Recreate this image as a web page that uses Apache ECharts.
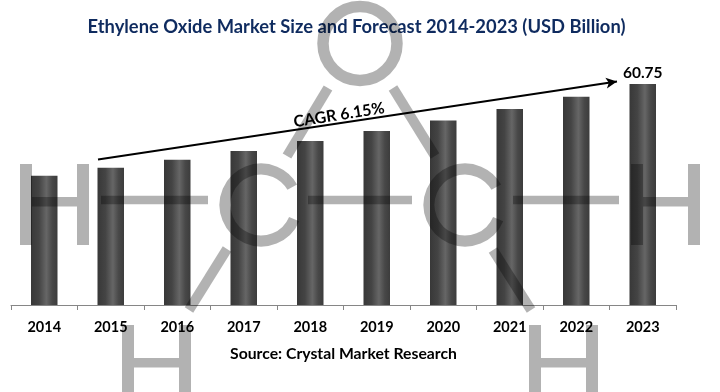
<!DOCTYPE html>
<html><head><meta charset="utf-8">
<style>html,body{margin:0;padding:0;background:#fff}#c{width:720px;height:392px}</style>
<script src="https://cdn.jsdelivr.net/npm/echarts@6/dist/echarts.min.js"></script>
</head><body><div id="c"></div>
<script>
const years = ['2014','2015','2016','2017','2018','2019','2020','2021','2022','2023'];
const marketSize = [35.5,37.7,39.9,42.3,45.1,47.8,50.7,53.9,57.2,60.75];
const titleText = 'Ethylene Oxide Market Size and Forecast 2014-2023 (USD Billion)';
const sourceText = 'Source: Crystal Market Research';
const cagrText = 'CAGR 6.15%';
const FONT = 'Lato';
const WM = 'rgba(0,0,0,0.30)';

function hShape(x,y,w,h){ // letter H as one outline
  const s=12, t=y+33, b=t+9.5;
  return {type:'polygon',silent:true,z:100,style:{fill:WM},shape:{points:[
    [x,y],[x+s,y],[x+s,t],[x+w-s,t],[x+w-s,y],[x+w,y],[x+w,y+h],[x+w-s,y+h],[x+w-s,b],[x+s,b],[x+s,y+h],[x,y+h]]}};
}
function bond(x1,y1,x2,y2,w){
  return {type:'line',silent:true,z:100,style:{stroke:WM,lineWidth:w,lineCap:'butt'},shape:{x1,y1,x2,y2}};
}
function letterC(cx,cy){
  return {type:'arc',silent:true,z:100,style:{stroke:WM,lineWidth:11,fill:null,lineCap:'butt'},
    shape:{cx,cy,r:36,startAngle:0.40,endAngle:-0.52+Math.PI*2,clockwise:true}};
}
const watermark = [
  hShape(20,164,69,81), hShape(631,164,69,81),
  hShape(122,325,69,81), hShape(529,325,69,81),
  {type:'circle',silent:true,z:100,style:{stroke:WM,lineWidth:11.5,fill:null},shape:{cx:360,cy:43.5,r:37}},
  letterC(261,205), letterC(465,205),
  bond(101,200,208,200,8.5), bond(308,200,412,200,8.5), bond(513,200,619,200,8.5),
  bond(328,88,287,156,10), bond(393,88,435,156,10),
  bond(227,249,189,310,10), bond(493,250,531,310,10)
];

const chart = echarts.init(document.getElementById('c'));
chart.setOption({
  animation:false,
  backgroundColor:'#fff',
  title:[
    {text:titleText,left:351.5,top:13,textAlign:'center',textStyle:{fontFamily:FONT,fontWeight:'bold',fontSize:18.35,color:'#0f2b5f'}},
    {text:sourceText,left:338.5,top:341,textAlign:'center',textStyle:{fontFamily:FONT,fontWeight:'bold',fontSize:15.75,color:'#000'}}
  ],
  grid:{left:11,width:665,top:50.3,height:254.7,containLabel:false},
  xAxis:{type:'category',data:years,
    axisLine:{lineStyle:{color:'#868686',width:1}},
    axisTick:{show:true,alignWithLabel:false,length:5,lineStyle:{color:'#868686'}},
    axisLabel:{interval:0,margin:15,fontFamily:FONT,fontWeight:'bold',fontSize:14.5,color:'#000'}},
  yAxis:{type:'value',min:0,max:70,show:false,splitLine:{show:false}},
  series:[{type:'bar',data:marketSize.map((v,i)=>({value:v,label:{show:i===years.length-1}})),barWidth:26.5,
    itemStyle:{color:new echarts.graphic.LinearGradient(0,0,1,0,[
      {offset:0,color:'#383838'},{offset:0.3,color:'#444444'},{offset:0.58,color:'#666666'},{offset:0.8,color:'#484848'},{offset:1,color:'#3c3c3c'}])},
    label:{position:'top',distance:3,formatter:p=>p.value.toFixed(2),fontFamily:FONT,fontWeight:'bold',fontSize:15.5,color:'#000'},
    markLine:{silent:true,animation:false,symbol:['none','arrow'],symbolSize:[8,11],
      lineStyle:{color:'#000',width:2,type:'solid'},label:{show:false},
      data:[[{x:98,y:159.5},{x:617,y:81.5}]]}
  }],
  graphic:[
    {type:'text',rotation:9*Math.PI/180,x:339,y:115,z:90,style:{text:cagrText,fill:'#000',font:'bold 16px '+FONT,textAlign:'center',textVerticalAlign:'middle'}},
    ...watermark
  ]
});
</script></body></html>
